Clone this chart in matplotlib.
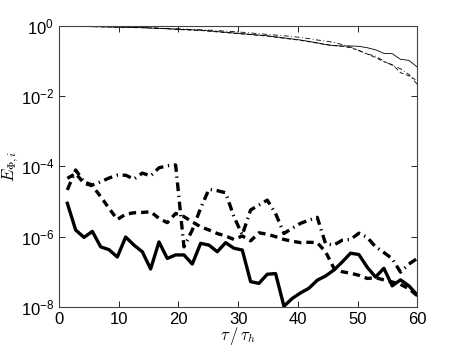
import matplotlib
matplotlib.use('Agg')
import matplotlib.pyplot as plt
import numpy as np

plt.rcParams['font.family'] = ['Liberation Sans', 'DejaVu Sans']
plt.rcParams['mathtext.fontset'] = 'cm'

# time samples tau/tau_h
n_pts = 43
tau = np.arange(1, n_pts + 1) * 60.0 / n_pts

# log10 of the errors
thick_solid = [-5.05, -5.81, -6.02, -5.85, -6.29, -6.37, -6.58, -6.01, -6.24, -6.43,
               -6.92, -6.15, -6.62, -6.52, -6.52, -6.78, -6.19, -6.24, -6.43, -6.17,
               -6.33, -6.38, -7.28, -7.33, -7.07, -7.05, -7.98, -7.76, -7.60, -7.47,
               -7.24, -7.12, -6.95, -6.72, -6.47, -6.51, -6.87, -7.15, -6.90, -7.40,
               -7.23, -7.40, -7.66]
thick_dash = [-4.34, -4.20, -4.48, -4.55, -4.86, -5.19, -5.51, -5.36, -5.32, -5.31,
              -5.29, -5.48, -5.60, -5.34, -5.43, -5.58, -5.72, -5.81, -5.91, -5.98,
              -6.08, -5.98, -6.12, -5.89, -5.93, -6.00, -6.08, -6.13, -6.17, -6.16,
              -6.17, -6.43, -6.90, -7.00, -7.04, -7.10, -7.19, -7.17, -7.23, -7.29,
              -7.36, -7.48, -7.68]
thick_dashdot = [-4.67, -4.10, -4.44, -4.53, -4.44, -4.33, -4.25, -4.25, -4.36, -4.19,
                 -4.27, -4.04, -3.98, -3.96, -6.29, -5.81, -5.19, -4.65, -4.69, -4.75,
                 -5.43, -5.95, -5.24, -5.10, -4.96, -5.34, -5.91, -5.76, -5.62, -5.53,
                 -5.45, -6.20, -6.24, -6.10, -6.08, -5.90, -6.02, -6.29, -6.45, -6.63,
                 -7.01, -6.78, -6.62]
thin_solid = [0.0, -0.01, -0.01, -0.02, -0.02, -0.03, -0.03, -0.04, -0.04, -0.05,
              -0.06, -0.07, -0.08, -0.09, -0.10, -0.11, -0.12, -0.14, -0.16, -0.18,
              -0.20, -0.22, -0.24, -0.26, -0.28, -0.31, -0.34, -0.37, -0.40, -0.44,
              -0.48, -0.53, -0.56, -0.57, -0.57, -0.58, -0.62, -0.68, -0.78, -0.79,
              -0.95, -0.98, -1.17]
thin_dash = [0.0, -0.01, -0.02, -0.02, -0.03, -0.03, -0.04, -0.04, -0.05, -0.05,
             -0.06, -0.07, -0.08, -0.10, -0.11, -0.12, -0.13, -0.15, -0.17, -0.19,
             -0.21, -0.23, -0.25, -0.27, -0.29, -0.32, -0.35, -0.38, -0.41, -0.45,
             -0.49, -0.53, -0.56, -0.58, -0.62, -0.70, -0.80, -0.90, -1.02, -1.10,
             -1.33, -1.42, -1.56]
thin_dashdot = [0.0, -0.01, -0.01, -0.02, -0.02, -0.02, -0.03, -0.03, -0.04, -0.04,
                -0.05, -0.06, -0.07, -0.08, -0.09, -0.10, -0.11, -0.12, -0.13, -0.15,
                -0.16, -0.18, -0.20, -0.22, -0.24, -0.26, -0.28, -0.30, -0.33, -0.36,
                -0.40, -0.43, -0.47, -0.53, -0.60, -0.70, -0.80, -0.86, -1.00, -1.12,
                -1.22, -1.38, -1.66]

fig = plt.figure(figsize=(4.61, 3.46), dpi=100)
ax = fig.add_axes([0.128, 0.113, 0.777, 0.812])

ax.semilogy(tau, 10 ** np.array(thin_solid), color='k', lw=0.6)
ax.semilogy(tau, 10 ** np.array(thin_dash), color='k', lw=0.6, dashes=(5, 3))
ax.semilogy(tau, 10 ** np.array(thin_dashdot), color='k', lw=0.6, dashes=(6, 3, 1, 3))

ax.semilogy(tau, 10 ** np.array(thick_solid), color='k', lw=2.4)
ax.semilogy(tau, 10 ** np.array(thick_dash), color='k', lw=2.4, dashes=(2.2, 1.5))
ax.semilogy(tau, 10 ** np.array(thick_dashdot), color='k', lw=2.4, dashes=(2.6, 1.4, 0.4, 1.4))

ax.set_xlim(0, 60)
ax.set_ylim(1e-8, 1)
ax.set_xticks([0, 10, 20, 30, 40, 50, 60])
ax.set_yticks([1e-8, 1e-6, 1e-4, 1e-2, 1])
ax.yaxis.set_minor_locator(matplotlib.ticker.NullLocator())
ax.tick_params(direction='in', top=True, right=True, labelsize=12, length=4, width=0.6, colors='k')
for s in ax.spines.values():
    s.set_linewidth(0.8)
    s.set_color('#444444')

ax.set_xlabel(r'$\tau\,/\,\tau_h$', fontsize=12, labelpad=-1)
ax.set_ylabel(r'$E_{\Phi,i}$', fontsize=12, labelpad=0)

fig.savefig('out.png', dpi=100)
